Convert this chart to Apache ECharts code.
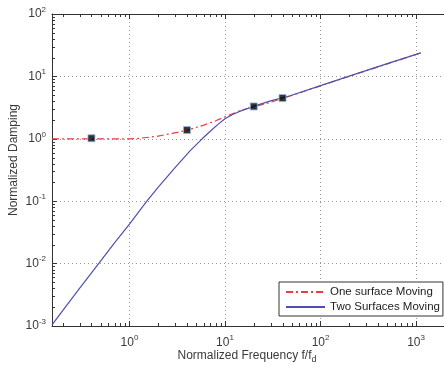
<!DOCTYPE html>
<html><head><meta charset="utf-8">
<script src="https://cdn.jsdelivr.net/npm/echarts@6/dist/echarts.min.js"></script>
<style>html,body{margin:0;padding:0;background:#fff;}#c{width:444px;height:368px;}</style>
</head><body><div id="c"></div>
<script>
// ---- data ----
const seriesNames = ['One surface Moving', 'Two Surfaces Moving'];
const freqOne = [0.1545, 1.0, 1.2, 1.9, 2.8, 4.0, 6.0, 8.0, 10, 15, 20, 30, 40, 48, 100, 196, 500, 1120];
const dampOne = [1.0, 1.0, 1.01, 1.09, 1.22, 1.37, 1.66, 1.95, 2.25, 2.9, 3.25, 3.85, 4.45, 4.85, 7.05, 9.95, 15.9, 23.7];
const freqTwo = [0.1545, 0.2, 0.3, 0.48, 0.7, 1.0, 1.52, 2.0, 3.0, 4.3, 5.76, 7.0, 8.5, 10, 12, 14, 19.8, 30, 48, 100, 196, 500, 1120];
const dampTwo = [0.00104, 0.00176, 0.0040, 0.0102, 0.0216, 0.043, 0.1, 0.168, 0.346, 0.64, 1.0, 1.32, 1.72, 2.1, 2.45, 2.72, 3.3, 4.05, 4.9, 7.1, 10, 16, 23.8];
const markerFreq = [0.4, 4, 20, 40];
const markerDamp = [1.02, 1.38, 3.3, 4.5];
const xTickValues = [1, 10, 100, 1000];
const yTickValues = [0.001, 0.01, 0.1, 1, 10, 100];
const minorMultipliers = [2, 3, 4, 5, 6, 7, 8, 9];
const xDecades = [0.1, 1, 10, 100, 1000];
const yDecades = [0.001, 0.01, 0.1, 1, 10];
const xTitle = 'Normalized Frequency f/f{sub|d}';
const yTitle = 'Normalized Damping';

// ---- axis settings ----
const X_MIN = 0.1545, X_MAX = 1960, Y_MIN = 0.001, Y_MAX = 100;
const FONT = 'Liberation Sans, Arial, sans-serif';
const TXT = '#3a3a3a';

function isPow(v, list) {
  return list.some(t => Math.abs(Math.log10(v) - Math.log10(t)) < 1e-6);
}
function powLabel(list) {
  return v => isPow(v, list) ? '10{sup|' + Math.round(Math.log10(v)) + '}' : '';
}
const labelRich = { sup: { fontSize: 8, fontFamily: FONT, color: TXT, padding: [0, 0, 9, 0] } };

const minorData = [];
xDecades.forEach(d => minorMultipliers.forEach(m => {
  const v = d * m; if (v > X_MIN && v < X_MAX) minorData.push([v, 1, 0]);
}));
yDecades.forEach(d => minorMultipliers.forEach(m => {
  const v = d * m; if (v > Y_MIN && v < Y_MAX) minorData.push([1, v, 1]);
}));

const chart = echarts.init(document.getElementById('c'), null, { renderer: 'canvas' });
const axisLine = { show: true, lineStyle: { color: '#333', width: 1 } };
const grid = { left: 52, top: 14, right: -16, bottom: 42, containLabel: false };

chart.setOption({
  animation: false,
  backgroundColor: '#fff',
  grid: grid,
  xAxis: [{
    type: 'log', min: X_MIN, max: X_MAX, position: 'bottom',
    axisLine: axisLine,
    axisTick: { show: true, inside: true, length: 5, lineStyle: { color: '#333' } },
    axisLabel: { formatter: powLabel(xTickValues), showMinLabel: false, showMaxLabel: false,
      fontSize: 12, fontFamily: FONT, color: TXT, margin: 8, rich: labelRich },
    splitLine: { show: true, lineStyle: { color: '#999', type: [1, 3], width: 1 } }
  }, {
    type: 'log', min: X_MIN, max: X_MAX, position: 'top',
    axisLine: axisLine,
    axisTick: { show: true, inside: true, length: 5, lineStyle: { color: '#333' } },
    axisLabel: { show: false },
    splitLine: { show: false }
  }],
  yAxis: [{
    type: 'log', min: Y_MIN, max: Y_MAX, position: 'left',
    axisLine: axisLine,
    axisTick: { show: true, inside: true, length: 5, lineStyle: { color: '#333' } },
    axisLabel: { formatter: powLabel(yTickValues), fontSize: 12, fontFamily: FONT, color: TXT,
      margin: 6, rich: labelRich },
    splitLine: { show: true, lineStyle: { color: '#999', type: [1, 3], width: 1 } }
  }],
  legend: {
    data: seriesNames,
    orient: 'vertical',
    left: 279, top: 282,
    padding: [4, 3, 3, 6],
    itemGap: 3,
    itemWidth: 39, itemHeight: 12,
    itemStyle: { opacity: 0 },
    backgroundColor: '#fff',
    borderColor: '#333', borderWidth: 1, borderRadius: 0,
    textStyle: { fontSize: 11.5, fontFamily: FONT, color: '#222' }
  },
  graphic: [{
    type: 'text', x: 247, y: 356,
    style: { text: xTitle, fontSize: 12, fontFamily: FONT, fill: TXT, align: 'center', verticalAlign: 'middle',
      rich: { sub: { fontSize: 9, fontFamily: FONT, fill: TXT, padding: [8, 0, 0, 0] } } }
  }, {
    type: 'text', x: 14, y: 160, rotation: Math.PI / 2,
    style: { text: yTitle, fontSize: 12, fontFamily: FONT, fill: TXT, align: 'center', verticalAlign: 'middle' }
  }],
  series: [{
    name: seriesNames[0], type: 'line', symbol: 'none', showSymbol: false,
    data: freqOne.map((f, i) => [f, dampOne[i]]),
    lineStyle: { color: '#ee3b43', width: 1.2, type: [7, 3, 2, 3] },
    itemStyle: { color: '#ee3b43' }, z: 3
  }, {
    name: seriesNames[1], type: 'line', symbol: 'none', showSymbol: false,
    data: freqTwo.map((f, i) => [f, dampTwo[i]]),
    lineStyle: { color: '#4f4fb0', width: 1.2 },
    itemStyle: { color: '#4f4fb0' }, z: 4
  }, {
    name: 'markers', type: 'scatter', symbol: 'rect', symbolSize: 7,
    data: markerFreq.map((f, i) => [f, markerDamp[i]]),
    itemStyle: { color: '#000', borderColor: '#8cbbe6', borderWidth: 1 }, z: 5
  }, {
    name: 'minorTicks', type: 'custom', silent: true, clip: false,
    encode: { x: 0, y: 1 },
    data: minorData,
    renderItem: function (params, api) {
      const kind = api.value(2);
      const len = 3;
      const st = { stroke: '#333', lineWidth: 1 };
      if (kind === 0) {
        const f = api.value(0);
        const b = api.coord([f, Y_MIN]);
        const t = api.coord([f, Y_MAX]);
        const x = Math.round(b[0]) + 0.5;
        return { type: 'group', children: [
          { type: 'line', shape: { x1: x, y1: b[1], x2: x, y2: b[1] - len }, style: st },
          { type: 'line', shape: { x1: x, y1: t[1], x2: x, y2: t[1] + len }, style: st }
        ] };
      }
      const v = api.value(1);
      const l = api.coord([X_MIN, v]);
      const y = Math.round(l[1]) + 0.5;
      return { type: 'line', shape: { x1: l[0], y1: y, x2: l[0] + len, y2: y }, style: st };
    }
  }]
});
</script></body></html>
